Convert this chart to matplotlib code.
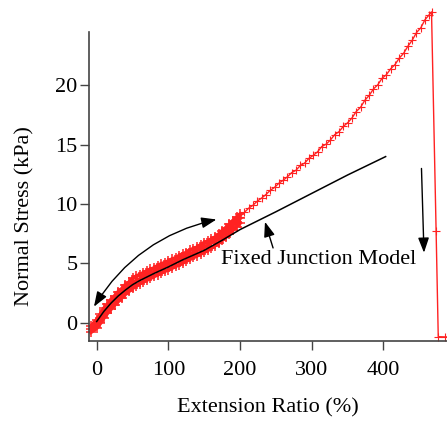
import matplotlib
matplotlib.use("Agg")
import matplotlib.pyplot as plt

# ---------------- data ----------------
band_x = [-8, 0, 5, 10, 15, 20, 25, 30, 35, 40, 45, 50, 55, 60, 65, 70, 75, 80, 85, 90,
          95, 100, 105, 110, 115, 120, 125, 130, 135, 140, 145, 150, 155, 160, 165, 170,
          175, 180, 185, 190, 195, 200]
band_upper = [-0.3, 0.25, 0.7, 1.2, 1.55, 1.95, 2.25, 2.6, 2.85, 3.2, 3.4, 3.75, 3.9, 4.05,
              4.2, 4.35, 4.5, 4.6, 4.8, 4.95, 5.05, 5.2, 5.35, 5.45, 5.65, 5.8, 5.9, 6.1,
              6.25, 6.35, 6.55, 6.75, 6.85, 7.05, 7.2, 7.45, 7.75, 8.0, 8.3, 8.6, 8.9, 9.15]
band_middle = [-0.55, -0.05, 0.4, 0.8, 1.25, 1.5, 1.95, 2.2, 2.55, 2.75, 3.1, 3.3, 3.55, 3.65,
               3.9, 4.0, 4.2, 4.3, 4.5, 4.6, 4.8, 4.85, 5.05, 5.15, 5.3, 5.5, 5.6, 5.8, 5.9,
               6.1, 6.2, 6.4, 6.5, 6.75, 6.9, 7.15, 7.35, 7.65, 7.9, 8.25, 8.5, 8.8]
band_lower = [-0.8, -0.45, -0.05, 0.4, 0.8, 1.15, 1.5, 1.8, 2.1, 2.4, 2.65, 2.9, 3.1, 3.3,
              3.45, 3.6, 3.75, 3.9, 4.05, 4.2, 4.35, 4.45, 4.6, 4.75, 4.9, 5.05, 5.2, 5.35,
              5.5, 5.65, 5.8, 5.95, 6.1, 6.3, 6.5, 6.7, 6.95, 7.2, 7.5, 7.8, 8.1, 8.4]

tail_x = [200, 206, 212, 218, 224, 230, 236, 242, 248, 254, 260, 266, 272, 278, 284, 290,
          296, 302, 308, 314, 320, 326, 332, 338, 344, 350, 356, 362, 368, 374, 380, 386,
          392, 398, 404, 410, 416, 422, 428, 434, 440, 446, 452, 458, 463, 467,
          473.4, 476.4, 485.8, 495]
tail_y = [8.95, 9.3, 9.65, 9.9, 10.25, 10.5, 10.8, 11.15, 11.4, 11.75, 12.0, 12.3, 12.65,
          12.85, 13.25, 13.45, 13.85, 14.1, 14.4, 14.85, 15.05, 15.4, 15.85, 16.1, 16.55,
          16.85, 17.25, 17.8, 18.15, 18.75, 19.15, 19.7, 20.05, 20.6, 20.9, 21.4, 21.75,
          22.3, 22.7, 23.3, 23.8, 24.45, 24.85, 25.55, 25.9, 26.2,
          7.76, -1.18, -1.2, -1.2]

model_x = [0, 10, 20, 30, 40, 50, 60, 80, 100, 120, 150, 175, 200, 250, 300, 350, 403]
model_y = [0.1, 0.95, 1.65, 2.25, 2.75, 3.2, 3.55, 4.15, 4.7, 5.3, 6.1, 6.95, 7.85, 9.35,
           10.9, 12.45, 14.0]

x_ticks = [0, 100, 200, 300, 400]
y_ticks = [0, 5, 10, 15, 20]

label_text = "Fixed Junction Model"
x_label = "Extension Ratio (%)"
y_label = "Normal Stress (kPa)"

# ---------------- figure ----------------
plt.rcParams['font.family'] = ['Liberation Serif', 'DejaVu Serif']
red = '#ff2222'

fig = plt.figure(figsize=(4.47, 4.21), dpi=100)
ax = fig.add_axes([0.1998, 0.1907, 0.8002, 0.8093])
ax.set_xlim(-10.3, 488.6)
ax.set_ylim(-1.52, 27.2)

for ys in (band_upper, band_middle, band_lower):
    ax.plot(band_x, ys, color=red, lw=2.8, marker='+', ms=7, mew=1.1, clip_on=False)
ax.plot(tail_x, tail_y, color=red, lw=1.0, marker='+', ms=5.5, mew=0.8, clip_on=True)

ax.plot(model_x, model_y, color='black', lw=1.1)

arrow_kw = dict(color='black', lw=1.0, shrinkA=0, shrinkB=0, mutation_scale=15)
ax.annotate('', xy=(167, 8.7), xytext=(-3.8, 1.35),
            arrowprops=dict(arrowstyle='<|-|>,head_length=0.6,head_width=0.22',
                            connectionstyle='arc3,rad=-0.21', **arrow_kw))
ax.annotate('', xy=(234.7, 8.5), xytext=(246, 6.3),
            arrowprops=dict(arrowstyle='-|>,head_length=0.6,head_width=0.22', **arrow_kw))
ax.annotate('', xy=(456.5, 5.9), xytext=(453, 13.0),
            arrowprops=dict(arrowstyle='-|>,head_length=0.6,head_width=0.22', **arrow_kw))

ax.text(174, 5.3, label_text, ha='left', va='center', fontsize=16)

ax.spines['top'].set_visible(False)
ax.spines['right'].set_visible(False)
ax.spines['left'].set_bounds(-1.52, 24.5)
for s in ('left', 'bottom'):
    ax.spines[s].set_color('#444444')
    ax.spines[s].set_linewidth(1.2)

ax.set_xticks(x_ticks)
ax.set_yticks(y_ticks)
ax.tick_params(axis='both', direction='out', length=6.5, width=1.0, color='#444444',
               labelsize=16)
ax.tick_params(axis='x', pad=8)
ax.tick_params(axis='y', pad=2)

ax.set_xlabel(x_label, fontsize=16)
ax.set_ylabel(y_label, fontsize=16)
ax.xaxis.set_label_coords(0.5, -0.198)
ax.xaxis.label.set_va('center')
ax.yaxis.set_label_coords(-0.18, 0.3645)
ax.yaxis.label.set_va('center')

fig.savefig('out.png', dpi=100)
